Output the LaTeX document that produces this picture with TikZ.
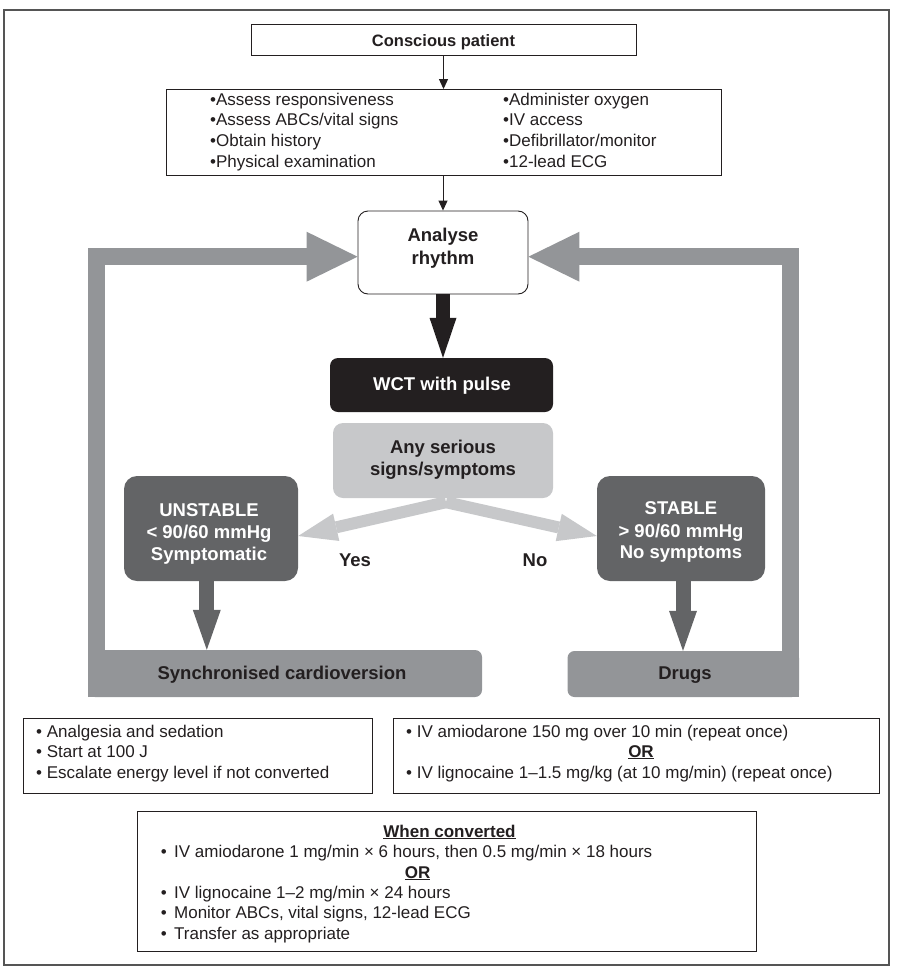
\documentclass[tikz,border=0pt]{standalone}
\usepackage{fontspec}
\setmainfont{Liberation Sans}
\usetikzlibrary{arrows.meta,calc}
\definecolor{framegray}{HTML}{555555}
\definecolor{darkbox}{HTML}{636466}
\definecolor{midgray}{HTML}{939598}
\definecolor{lightbox}{HTML}{C7C8CA}
\definecolor{inkblack}{HTML}{231F20}
\begin{document}
\begin{tikzpicture}[x=1pt,y=-1pt,
  txt/.style={inner sep=0pt, font=\fontsize{17}{20}\selectfont, text=inkblack},
  btxt/.style={inner sep=0pt, font=\fontsize{18.5}{22}\selectfont\bfseries, text=inkblack},
  wtxt/.style={btxt, text=white},
  plainbox/.style={draw=inkblack, line width=0.9pt, fill=white, inner sep=0pt},
  roundbox/.style={plainbox, rounded corners=10pt},
  blackbox/.style={fill=inkblack, rounded corners=8pt, inner sep=0pt},
  lightgraybox/.style={fill=lightbox, rounded corners=10pt, inner sep=0pt},
  darkgraybox/.style={fill=darkbox, rounded corners=13pt, inner sep=0pt},
  midgraybox/.style={fill=midgray, rounded corners=7pt, inner sep=0pt},
  thinarrow/.style={draw=inkblack, line width=1pt, -{Triangle[length=10pt,width=9pt]}},
  blackblock/.style={draw=inkblack, line width=14.5pt, -{Triangle[length=40pt,width=27pt,line width=0pt]}},
  darkblock/.style={draw=darkbox, line width=15pt, -{Triangle[length=40pt,width=28pt,line width=0pt]}},
  chevron/.style={draw=lightbox, line width=12pt, -{Triangle[length=39pt,width=28pt,line width=0pt]}},
  loopbar/.style={draw=midgray, line width=17pt, line join=miter, -{Triangle[length=51pt,width=50pt,line width=0pt]}},
]
\path[use as bounding box] (0,0) rectangle (900,972);
\draw[framegray, line width=1.3pt] (4,10) rectangle (889,965);

% boxes
\node[plainbox, minimum width=385pt, minimum height=31pt] (conscious) at (443.5,40) {};
\node[plainbox, minimum width=555pt, minimum height=85.5pt] (assess) at (443.5,132.25) {};
\node[roundbox, minimum width=170pt, minimum height=83pt] (analyse) at (443,252.5) {};
\node[blackbox, minimum width=223pt, minimum height=54pt] (wct) at (441.5,385) {};
\node[midgraybox, minimum width=394pt, minimum height=47pt] (sync) at (285,673.5) {};
\node[midgraybox, minimum width=231.5pt, minimum height=46pt] (drugs) at (683.25,674) {};
\node[lightgraybox, minimum width=220pt, minimum height=75pt] (any) at (443,460.5) {};
\node[darkgraybox, minimum width=174pt, minimum height=105pt] (unstable) at (211,528.5) {};
\node[darkgraybox, minimum width=168pt, minimum height=105pt] (stable) at (681,528.5) {};
\node[plainbox, minimum width=349pt, minimum height=75pt] (shockbox) at (197.5,755.5) {};
\node[plainbox, minimum width=486pt, minimum height=75pt] (drugbox) at (636,755.5) {};
\node[plainbox, minimum width=618.5pt, minimum height=140pt] (convbox) at (446.75,881.5) {};

% connectors
\draw[thinarrow] (conscious.south) -- (conscious.south |- assess.north);
\draw[thinarrow] (analyse.north |- assess.south) -- (analyse.north);
\draw[loopbar] ($(sync.south west)+(8.5,0)$) |- ([yshift=-4.2pt]analyse.west);
\draw[loopbar] ($(drugs.south east)+(-8.5,0)$) |- ([yshift=-4.2pt]analyse.east);
\draw[blackblock] (analyse.south) -- (analyse.south |- wct.north);
\draw[chevron] ($(any.south)+(3,4)$) -- ([yshift=-7.5pt]unstable.east);
\draw[chevron] ($(any.south)+(3,4)$) -- ([yshift=-7.5pt]stable.west);
\draw[darkblock] ([xshift=-4.2pt]unstable.south) -- ([xshift=-4.2pt]unstable.south |- sync.north);
\draw[darkblock] ([xshift=2pt]stable.south) -- ([xshift=2pt]stable.south |- drugs.north);

% texts
\node[btxt, font=\fontsize{16.5}{20}\selectfont\bfseries, anchor=base] (t1) at (443.5,46.5) {Conscious patient};
\node[txt, anchor=base west] (a1) at (210,105.5) {•Assess responsiveness};
\node[txt, anchor=base west] (a2) at (210,125.5) {•Assess ABCs/vital signs};
\node[txt, anchor=base west] (a3) at (210,146) {•Obtain history};
\node[txt, anchor=base west] (a4) at (210,167) {•Physical examination};
\node[txt, anchor=base west] (b1) at (503,105.5) {•Administer oxygen};
\node[txt, anchor=base west] (b2) at (503,125.5) {•IV access};
\node[txt, anchor=base west] (b3) at (503,146) {•Defibrillator/monitor};
\node[txt, anchor=base west] (b4) at (503,167) {•12-lead ECG};
\node[btxt, anchor=base] (r1) at (443,241.5) {Analyse};
\node[btxt, anchor=base] (r2) at (443,264) {rhythm};
\node[wtxt, anchor=base] (w1) at (442,390) {WCT with pulse};
\node[btxt, anchor=base] (s1) at (443,453.5) {Any serious};
\node[btxt, anchor=base] (s2) at (443,475) {signs/symptoms};
\node[wtxt, anchor=base] (u1) at (209,516) {UNSTABLE};
\node[wtxt, anchor=base] (u2) at (209,538.5) {< 90/60 mmHg};
\node[wtxt, anchor=base] (u3) at (209,560) {Symptomatic};
\node[wtxt, anchor=base] (v1) at (681,514.5) {STABLE};
\node[wtxt, anchor=base] (v2) at (681,537) {> 90/60 mmHg};
\node[wtxt, anchor=base] (v3) at (681,558.5) {No symptoms};
\node[btxt, anchor=base] (yes) at (355,566) {Yes};
\node[btxt, anchor=base] (no) at (535,566) {No};
\node[btxt, anchor=base] (c1) at (282,679) {Synchronised cardioversion};
\node[btxt, anchor=base] (d1) at (685,679) {Drugs};
\node[txt, anchor=base west] (e1) at (36,737) {• Analgesia and sedation};
\node[txt, anchor=base west] (e2) at (36,757) {• Start at 100 J};
\node[txt, anchor=base west] (e3) at (36,778) {• Escalate energy level if not converted};
\node[txt, anchor=base west] (f1) at (406,737) {• IV amiodarone 150 mg over 10 min (repeat once)};
\node[txt, font=\fontsize{17}{20}\selectfont\bfseries, anchor=base] (f2) at (641,757) {\underline{OR}};
\node[txt, anchor=base west] (f3) at (406,778) {• IV lignocaine 1–1.5 mg/kg (at 10 mg/min) (repeat once)};
\node[txt, font=\fontsize{17}{20}\selectfont\bfseries, anchor=base] (g0) at (449.5,837) {\underline{When converted}};
\node[txt, anchor=base west] (g1) at (160.7,857) {•\hspace{7.3pt}IV amiodarone 1 mg/min × 6 hours, then 0.5 mg/min × 18 hours};
\node[txt, font=\fontsize{17}{20}\selectfont\bfseries, anchor=base] (g2) at (417.6,878) {\underline{OR}};
\node[txt, anchor=base west] (g3) at (160.7,898) {•\hspace{7.3pt}IV lignocaine 1–2 mg/min × 24 hours};
\node[txt, anchor=base west] (g4) at (160.7,918.5) {•\hspace{7.3pt}Monitor ABCs, vital signs, 12-lead ECG};
\node[txt, anchor=base west] (g5) at (160.7,939) {•\hspace{7.3pt}Transfer as appropriate};
\end{tikzpicture}
\end{document}
